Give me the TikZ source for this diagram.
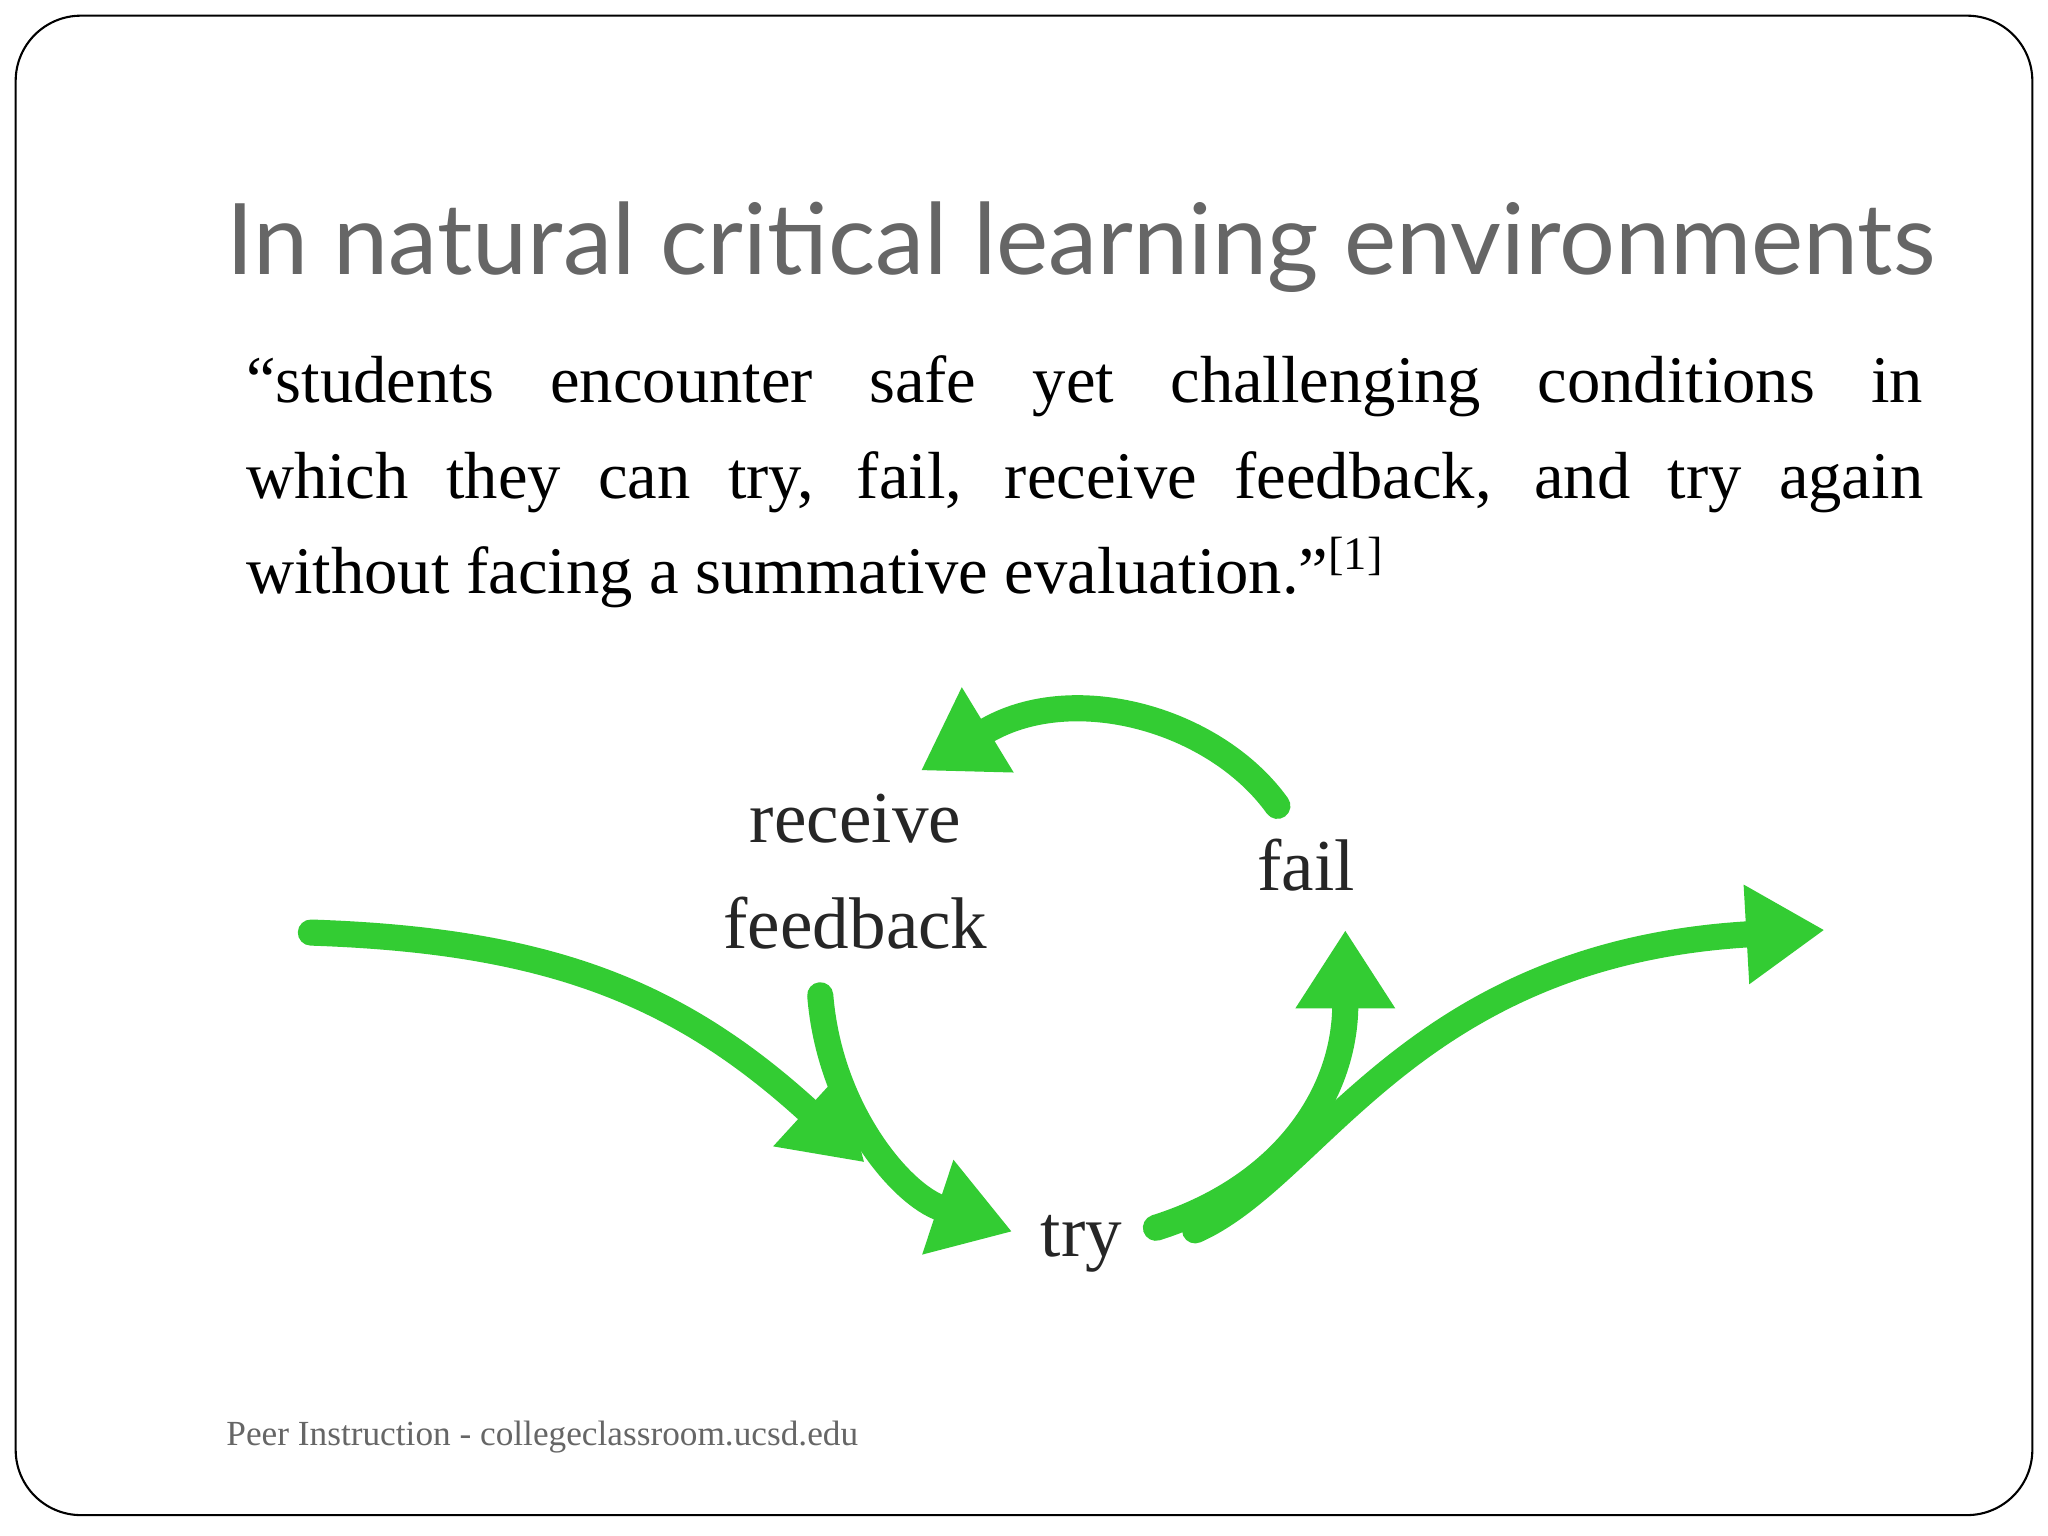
\documentclass[tikz,border=0pt]{standalone}
\usepackage{fontspec}
\setmainfont{Liberation Serif}
\newfontfamily\titlefont{Lato}
\usetikzlibrary{arrows.meta}
\definecolor{grn}{HTML}{33CC33}
\definecolor{ttl}{HTML}{666666}
\tikzset{
  garrow/.style={draw=grn,line width=10pt,line cap=round,-{Triangle[width=36pt,length=30pt]}},
  lbl/.style={font=\fontsize{28}{30}\selectfont,text=black!85}
}
\begin{document}
\begin{tikzpicture}[x=0.5pt,y=-0.5pt]
\useasboundingbox (0,0) rectangle (1568,1176);
\fill[white] (0,0) rectangle (1568,1176);
\draw[line width=0.8pt,rounded corners=25pt] (12,12) rectangle (1556,1160);
\node[anchor=base west,inner sep=0,text=ttl,font=\titlefont\fontsize{37.8}{40}\selectfont] (title) at (173,210) {In natural critical learning environments};
\node[anchor=north west,inner sep=0,text width=642pt,align=justify,font=\fontsize{25.5}{36.5}\selectfont] (quote) at (188,272)
 {“students encounter safe yet challenging conditions in\linebreak which they can try, fail, receive feedback, and try again\linebreak without facing a summative evaluation.”\textsuperscript{[1]}};
\node[lbl] (recv) at (655,627) {receive};
\node[lbl] (fb) at (655,707) {feedback};
\node[lbl] (fail) at (1000,662) {fail};
\node[lbl] (try) at (828,952) {try};
\coordinate (s1) at (238,714);
\coordinate (t1) at (662,890);
\draw[garrow] (s1) .. controls (420,720) and (520,760) .. (t1);
\coordinate (s2) at (628,762);
\coordinate (t2) at (775,943);
\draw[garrow] (s2) .. controls (635,850) and (690,915) .. (t2);
\coordinate (s3) at (885,940);
\coordinate (t3) at (1030,712);
\draw[garrow] (s3) .. controls (980,910) and (1030,840) .. (t3);
\coordinate (s4) at (978,617);
\coordinate (t4) at (705,590);
\draw[garrow] (s4) .. controls (930,550) and (820,520) .. (t4);
\coordinate (s5) at (915,942);
\coordinate (t5) at (1397,712);
\draw[garrow] (s5) .. controls (1010,900) and (1080,730) .. (t5);
\node[anchor=base west,inner sep=0,text=ttl,font=\fontsize{13.5}{15}\selectfont] (foot) at (173,1107) {Peer Instruction - collegeclassroom.ucsd.edu};
\end{tikzpicture}
\end{document}
